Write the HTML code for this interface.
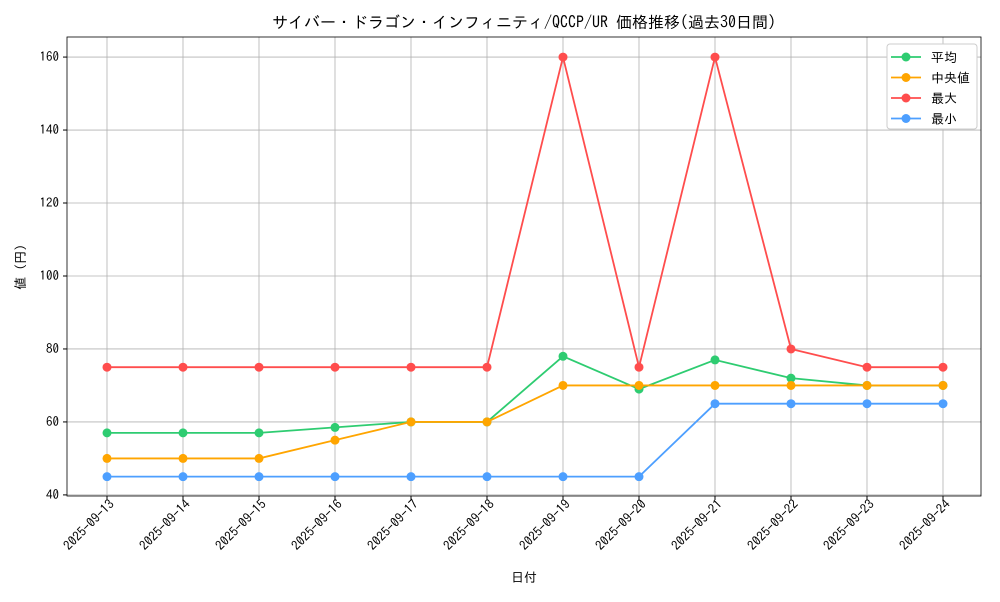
<!DOCTYPE html>
<html><head><meta charset="utf-8"><style>
body{margin:0;background:#fff;font-family:"IPAGothic","Liberation Sans","Noto Sans CJK JP",sans-serif;}
svg text{font-family:"IPAGothic","Liberation Mono","Noto Sans CJK JP",sans-serif;}
</style></head><body>
<svg id="chart" width="1000" height="600" xmlns="http://www.w3.org/2000/svg"></svg>
<script>
const categories=["2025-09-13","2025-09-14","2025-09-15","2025-09-16","2025-09-17","2025-09-18","2025-09-19","2025-09-20","2025-09-21","2025-09-22","2025-09-23","2025-09-24"];
const avgValues=[57,57,57,58.5,60,60,78,69,77,72,70,70];
const medianValues=[50,50,50,55,60,60,70,70,70,70,70,70];
const maxValues=[75,75,75,75,75,75,160,75,160,80,75,75];
const minValues=[45,45,45,45,45,45,45,45,65,65,65,65];
const yTicks=[40,60,80,100,120,140,160];
const seriesNames=["平均","中央値","最大","最小"];
const NS="http://www.w3.org/2000/svg";
const svg=document.getElementById('chart');
const L=67,R=981,T=37,B=496,yMin=39.7,yMax=165.5;
function xPos(i){return 107+i*(943-107)/(categories.length-1);}
function yPos(v){return B-(v-yMin)/(yMax-yMin)*(B-T);}
function mk(tag,attrs,parent){const e=document.createElementNS(NS,tag);for(const k in attrs)e.setAttribute(k,attrs[k]);(parent||svg).appendChild(e);return e;}
const grid=mk('g',{});


categories.forEach((c,i)=>{const x=xPos(i);
 mk('line',{x1:x,x2:x,y1:T,y2:B,stroke:'#b0b0b0','stroke-width':0.8},grid);
 mk('line',{x1:x,x2:x,y1:B,y2:B+4,stroke:'#000'});
 const ax=x+8,ay=B+9;
 const t=mk('text',{x:ax,y:ay,'font-size':13,'text-anchor':'end',transform:`rotate(-45 ${ax} ${ay})`});
 t.textContent=c;
 
 
});
yTicks.forEach(v=>{const y=yPos(v);
 mk('line',{x1:L,x2:R,y1:y,y2:y,stroke:'#b0b0b0','stroke-width':0.8},grid);
 mk('line',{x1:L-4,x2:L,y1:y,y2:y,stroke:'#000'});
 const t=mk('text',{x:L-8,y:y+4,'font-size':13,'text-anchor':'end'});
 t.textContent=v;
 
 
});
const frame=mk('rect',{x:L,y:T,width:R-L,height:B-T,fill:'none',stroke:'#000','stroke-width':0.8});


const series=[[avgValues,'#2ecc71','series-average'],[medianValues,'#ffa500','series-median'],[maxValues,'#ff4d4d','series-max'],[minValues,'#4d9fff','series-min']];
series.forEach(([vals,col,name])=>{
 const g=mk('g',{});
 
 
 mk('polyline',{points:vals.map((v,i)=>xPos(i)+','+yPos(v)).join(' '),fill:'none',stroke:col,'stroke-width':1.8},g);
 vals.forEach((v,i)=>{const c=mk('circle',{cx:xPos(i),cy:yPos(v),r:4.5,fill:col},g);
  
  });
});
const title=mk('text',{x:524,y:28,'font-size':16,'text-anchor':'middle'});
title.textContent='サイバー・ドラゴン・インフィニティ/QCCP/UR 価格推移(過去30日間)';


const xt=mk('text',{x:524,y:582,'font-size':13,'text-anchor':'middle'});
xt.textContent='日付';


const yt=mk('text',{x:25,y:267,'font-size':13,'text-anchor':'middle',transform:'rotate(-90 25 267)'});
yt.textContent='値 (円)';


const lg=mk('g',{});


mk('rect',{x:887,y:44,width:90,height:85,rx:3,fill:'#fff',stroke:'#ccc'},lg);
series.forEach(([v,col],i)=>{const y=57+i*20.5;
 const e=mk('g',{},lg);
 
 
 mk('line',{x1:891,x2:921,y1:y,y2:y,stroke:col,'stroke-width':1.8},e);
 mk('circle',{cx:906,cy:y,r:4.5,fill:col},e);
 const t=mk('text',{x:931,y:y+5,'font-size':13},e);t.textContent=seriesNames[i];
});
</script>
</body></html>
